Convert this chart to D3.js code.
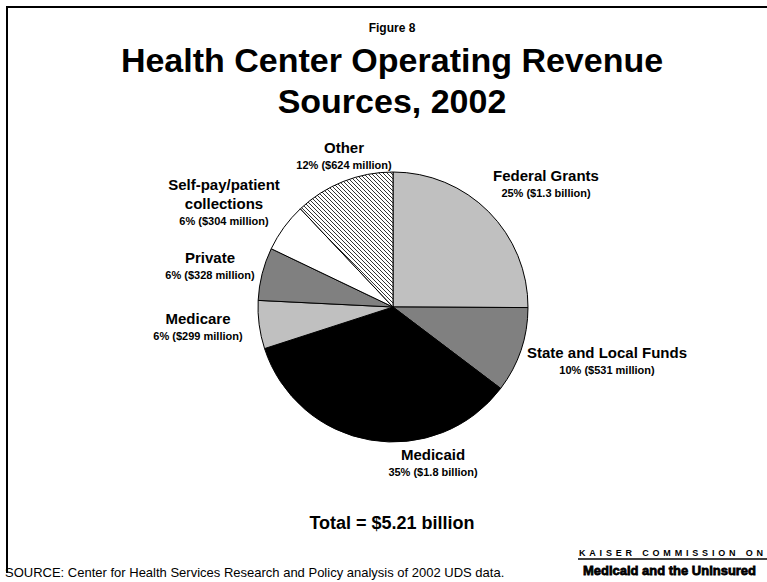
<!DOCTYPE html>
<html>
<head>
<meta charset="utf-8">
<script src="https://cdn.jsdelivr.net/npm/d3@7"></script>
<style>
  html, body { margin: 0; padding: 0; background: #fff; }
  svg { display: block; }
  text { font-family: "Liberation Sans", Arial, sans-serif; fill: #000; }
</style>
</head>
<body>
<svg id="chart" width="767" height="582"></svg>
<script>
// ---- data ----
const categories = ["Federal Grants", "State and Local Funds", "Medicaid", "Medicare", "Private", "Self-pay/patient collections", "Other"];
const valuesMillions = [1300, 531, 1800, 299, 328, 304, 624];
const valueLabels = ["25% ($1.3 billion)", "10% ($531 million)", "35% ($1.8 billion)", "6% ($299 million)", "6% ($328 million)", "6% ($304 million)", "12% ($624 million)"];
const nameLines = [["Federal Grants"], ["State and Local Funds"], ["Medicaid"], ["Medicare"], ["Private"], ["Self-pay/patient", "collections"], ["Other"]];
const figureLabel = "Figure 8";
const titleLines = ["Health Center Operating Revenue", "Sources, 2002"];
const totalLabel = "Total = $5.21 billion";
const sourceText = "SOURCE: Center for Health Services Research and Policy analysis of 2002 UDS data.";

// ---- layout / style ----
const fills = ["#C0C0C0", "#808080", "#000000", "#C0C0C0", "#808080", "#FFFFFF", "url(#hatch)"];
const cx = 393, cy = 307, R = 135;
// label anchor (center x, baseline of first line)
const labelPos = [[546, 181], [607, 358], [433, 460], [198, 324], [210, 263], [224, 190], [344, 153]];

const svg = d3.select("#chart");
const defs = svg.append("defs");
const pat = defs.append("pattern").attr("id", "hatch").attr("patternUnits", "userSpaceOnUse")
  .attr("width", 4).attr("height", 4);
pat.append("rect").attr("width", 4).attr("height", 4).attr("fill", "#fff");
pat.append("path").attr("d", "M-1,-1 L5,5 M3,-1 L5,1 M-1,3 L1,5")
  .attr("stroke", "#333").attr("stroke-width", 1);

// frame
svg.append("line").attr("x1", 7).attr("x2", 767).attr("y1", 7).attr("y2", 7).attr("stroke", "#000").attr("stroke-width", 2);
svg.append("line").attr("x1", 7).attr("x2", 7).attr("y1", 6).attr("y2", 573).attr("stroke", "#000").attr("stroke-width", 2);

// titles
svg.append("text").attr("x", 392).attr("y", 32).attr("text-anchor", "middle")
  .attr("font-size", 12).attr("font-weight", "bold").text(figureLabel);
svg.selectAll("text.title").data(titleLines).join("text").attr("class", "title")
  .attr("x", 392).attr("y", (d, i) => 72 + i * 41).attr("text-anchor", "middle")
  .attr("font-size", 34).attr("font-weight", "bold").text(d => d);

// pie
const pie = d3.pie().sort(null).value(d => d).startAngle(0).endAngle(2 * Math.PI);
const arc = d3.arc().innerRadius(0).outerRadius(R);
const g = svg.append("g").attr("transform", `translate(${cx},${cy})`);
g.selectAll("path").data(pie(valuesMillions)).join("path")
  .attr("d", arc)
  .attr("fill", (d, i) => fills[i])
  .attr("stroke", "#000").attr("stroke-width", 1).attr("stroke-linejoin", "round");

// labels
categories.forEach((c, i) => {
  const [x, y] = labelPos[i];
  const lines = nameLines[i];
  lines.forEach((ln, j) => {
    svg.append("text").attr("x", x).attr("y", y + j * 19).attr("text-anchor", "middle")
      .attr("font-size", 15).attr("font-weight", "bold").text(ln);
  });
  svg.append("text").attr("x", x).attr("y", y + (lines.length - 1) * 19 + 16).attr("text-anchor", "middle")
    .attr("font-size", 11).attr("font-weight", "bold").text(valueLabels[i]);
});

// total
svg.append("text").attr("x", 392).attr("y", 529).attr("text-anchor", "middle")
  .attr("font-size", 18).attr("font-weight", "bold").text(totalLabel);

// source
svg.append("text").attr("x", 5).attr("y", 577).attr("font-size", 13).text(sourceText);

// logo
svg.append("text").attr("x", 579).attr("y", 556).attr("font-size", 9).attr("font-weight", "bold")
  .attr("textLength", 184).attr("lengthAdjust", "spacing").text("KAISER COMMISSION ON");
svg.append("line").attr("x1", 578).attr("x2", 767).attr("y1", 559).attr("y2", 559).attr("stroke", "#000").attr("stroke-width", 1.5);
svg.append("text").attr("x", 583).attr("y", 575).attr("font-size", 13.5).attr("font-weight", "bold")
  .attr("stroke", "#000").attr("stroke-width", 0.8)
  .attr("textLength", 173).attr("lengthAdjust", "spacingAndGlyphs")
  .style("font-family", "'Liberation Sans', Arial, sans-serif").text("Medicaid and the Uninsured");
</script>
</body>
</html>
